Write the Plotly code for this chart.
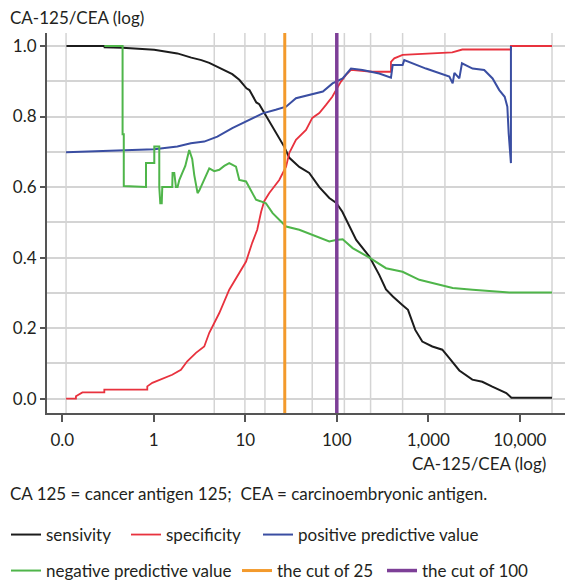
import plotly.graph_objects as go

# ---- data (CA-125/CEA ratio, log scale) ----
sens_x = [0.111, 0.288, 0.29, 0.453, 1.01, 1.81, 2.57, 3.31, 4.04, 4.95, 6.2, 7.21, 8.6, 10.3, 11.1, 13.2, 14.2, 17.0,
          21.8, 26.7, 30.3, 38.9, 50.0, 64.4, 82.8, 98.8, 115, 127, 137, 163, 227, 291, 345, 410, 520, 600, 720, 860,
          1107, 1423, 1698, 2183, 3029, 3894, 5005, 7117, 8100, 22500]
sens_y = [1.0, 1.0, 0.996, 0.995, 0.989, 0.979, 0.967, 0.96, 0.952, 0.94, 0.927, 0.92, 0.904, 0.88, 0.875, 0.84, 0.835,
          0.80, 0.75, 0.714, 0.683, 0.657, 0.64, 0.60, 0.569, 0.555, 0.53, 0.507, 0.487, 0.45, 0.403, 0.351, 0.31,
          0.29, 0.266, 0.252, 0.195, 0.162, 0.148, 0.139, 0.115, 0.08, 0.054, 0.048, 0.034, 0.016, 0.003, 0.003]

spec_x = [0.11, 0.141, 0.141, 0.166, 0.288, 0.288, 0.849, 0.849, 0.964, 1.2, 1.59, 1.98, 2.32, 2.89, 3.56, 4.04, 4.98,
          5.2, 6.68, 8.6, 10.2, 11.9, 13.5, 14.9, 16.1, 18.3, 23.5, 27.9, 30.3, 35.8, 46.1, 54.0, 64.4, 76.2, 89.3, 98,
          111, 126, 143, 244, 391, 391, 425, 524, 1828, 2353, 8000, 8000, 22500]
spec_y = [0.0, 0.0, 0.007, 0.018, 0.018, 0.026, 0.026, 0.035, 0.045, 0.056, 0.068, 0.082, 0.106, 0.13, 0.148, 0.187,
          0.233, 0.243, 0.309, 0.357, 0.389, 0.442, 0.479, 0.53, 0.56, 0.583, 0.62, 0.658, 0.697, 0.734, 0.762, 0.796,
          0.81, 0.833, 0.856, 0.875, 0.899, 0.918, 0.932, 0.927, 0.927, 0.955, 0.965, 0.975, 0.982, 0.99, 0.99, 1.0, 1.0]

ppv_x = [0.11, 0.476, 1.01, 1.81, 2.54, 3.56, 4.95, 7.21, 11.1, 15.5, 21.5, 27.9, 35.8, 50, 70.5, 89.8, 116, 143, 191,
         291, 391, 408, 524, 546, 942, 1698, 1846, 1928, 2183, 2333, 3047, 4084, 5040, 5965, 6837, 7310, 7556, 8000, 8000]
ppv_y = [0.699, 0.705, 0.707, 0.715, 0.724, 0.729, 0.743, 0.767, 0.79, 0.809, 0.819, 0.828, 0.852, 0.861, 0.871, 0.894,
         0.908, 0.936, 0.932, 0.922, 0.91, 0.946, 0.946, 0.96, 0.936, 0.913, 0.894, 0.924, 0.908, 0.951, 0.936, 0.932,
         0.908, 0.875, 0.856, 0.828, 0.753, 0.668, 1.0]

npv_x = [0.288, 0.456, 0.456, 0.47, 0.47, 0.822, 0.822, 1.013, 1.013, 1.148, 1.148, 1.178, 1.222, 1.238, 1.592, 1.604,
         1.674, 1.748, 1.82, 1.90, 2.05, 2.21, 2.44, 2.63, 2.77, 3.01, 3.14, 3.56, 4.04, 4.58, 5.2, 5.89, 6.68, 7.91,
         8.6, 10.2, 12.0, 13.1, 14.6, 16.8, 19.9, 23.5, 27.9, 38.9, 54.5, 82.8, 98, 116, 149, 227, 345, 524, 798,
         1214, 1846, 3050, 5044, 7674, 22500]
npv_y = [1.0, 1.0, 0.75, 0.75, 0.603, 0.6, 0.668, 0.668, 0.715, 0.715, 0.6, 0.554, 0.554, 0.6, 0.6, 0.64, 0.64, 0.6,
         0.6, 0.62, 0.64, 0.66, 0.705, 0.68, 0.634, 0.583, 0.59, 0.62, 0.653, 0.645, 0.649, 0.66, 0.668, 0.658, 0.62,
         0.616, 0.583, 0.564, 0.56, 0.554, 0.526, 0.507, 0.488, 0.479, 0.465, 0.446, 0.45, 0.452, 0.427, 0.40, 0.37,
         0.36, 0.337, 0.325, 0.314, 0.309, 0.305, 0.301, 0.301]

cut_low = 27
cut_high = 100
y_span = [-0.0405, 1.0368]

grid_x = [0.110, 4.58, 9.9, 16.4, 53.9, 121, 234, 524, 1520, 22490]

x_tickvals = [0.1, 1, 10, 100, 1000, 10000]
x_ticktext = ["0.0", "1", "10", "100", "1,000", "10,000"]
y_tickvals = [0.0, 0.2, 0.4, 0.6, 0.8, 1.0]
y_ticktext = ["0.0", "0.2", "0.4", "0.6", "0.8", "1.0"]

FONT = "Lato"
TXT = "#231f20"
W, H = 565, 581

fig = go.Figure()
# (name, x, y, colour, width, legend id)
series = [
    ("sensivity", sens_x, sens_y, "#1c1c1c", 2.0, "legend"),
    ("specificity", spec_x, spec_y, "#e8323e", 1.8, "legend2"),
    ("positive predictive value", ppv_x, ppv_y, "#3a4ea2", 2.0, "legend3"),
    ("negative predictive value", npv_x, npv_y, "#4fb54a", 2.0, "legend4"),
]
for name, xs, ys, col, w, lg in series:
    fig.add_trace(go.Scatter(x=xs, y=ys, mode="lines", name=name, showlegend=True,
                             line=dict(color=col, width=w), legend=lg))

fig.add_trace(go.Scatter(x=[cut_low, cut_low], y=y_span, mode="lines", name="the cut of 25", showlegend=True,
                         line=dict(color="#f39a2c", width=3), legend="legend5"))
fig.add_trace(go.Scatter(x=[cut_high, cut_high], y=y_span, mode="lines", name="the cut of 100", showlegend=True,
                         line=dict(color="#7d3f97", width=3.5), legend="legend6"))

shapes = []
for gx in grid_x:
    shapes.append(dict(type="line", xref="x", yref="paper", x0=gx, x1=gx, y0=0, y1=1,
                       line=dict(color="#d4d4d4", width=1.5), layer="below"))


def leg(px_left, py_center):
    return dict(orientation="h", xref="container", yref="container",
                x=(px_left - 6) / W, y=1 - py_center / H,
                xanchor="left", yanchor="middle",
                font=dict(size=17, family=FONT, color=TXT),
                bgcolor="rgba(0,0,0,0)", itemwidth=30, visible=True)


fig.update_layout(
    width=W, height=H,
    showlegend=True,
    margin=dict(l=47, r=0, t=33, b=168, autoexpand=False),
    paper_bgcolor="white", plot_bgcolor="white",
    font=dict(family=FONT, size=16, color=TXT),
    shapes=shapes,
    xaxis=dict(type="log", range=[-1.167, 4.494], showgrid=False, zeroline=False, automargin=False,
               tickvals=x_tickvals, ticktext=x_ticktext, ticks="outside", ticklen=7,
               tickcolor="#555555", tickwidth=1.5,
               showline=True, linecolor="#555555", linewidth=2,
               tickfont=dict(size=17, family=FONT, color=TXT), ticklabelstandoff=4),
    yaxis=dict(range=y_span, tickvals=y_tickvals, ticktext=y_ticktext, ticks="outside", ticklen=5,
               tickcolor="#555555", tickwidth=1.5, showgrid=True, gridcolor="#d4d4d4", gridwidth=1.5,
               zeroline=False, showline=True, linecolor="#555555", linewidth=2, automargin=False,
               minor=dict(dtick=0.1, showgrid=True, gridcolor="#d4d4d4", gridwidth=1.5, ticks=""),
               tickfont=dict(size=17, family=FONT, color=TXT)),
    legend=leg(12, 535),
    legend2=leg(132, 535),
    legend3=leg(264, 535),
    legend4=leg(12, 571),
    legend5=leg(243, 571),
    legend6=leg(388, 571),
    annotations=[
        dict(text="CA-125/CEA (log)", xref="paper", yref="paper", x=-39/518, y=1 + 15/380,
             xanchor="left", yanchor="middle", showarrow=False,
             font=dict(size=17, family=FONT, color=TXT)),
        dict(text="CA-125/CEA (log)", xref="paper", yref="paper", x=(548-47)/518, y=-(463-413)/380,
             xanchor="right", yanchor="middle", showarrow=False,
             font=dict(size=17, family=FONT, color=TXT)),
        dict(text="CA 125 = cancer antigen 125;  CEA = carcinoembryonic antigen.", xref="paper", yref="paper",
             x=-39/518, y=-(493-413)/380, xanchor="left", yanchor="middle", showarrow=False,
             font=dict(size=17, family=FONT, color=TXT)),
    ],
)

fig.write_html("out.html", config={"displayModeBar": False},
               post_script="document.body.style.margin='0';document.body.style.padding='0';")
